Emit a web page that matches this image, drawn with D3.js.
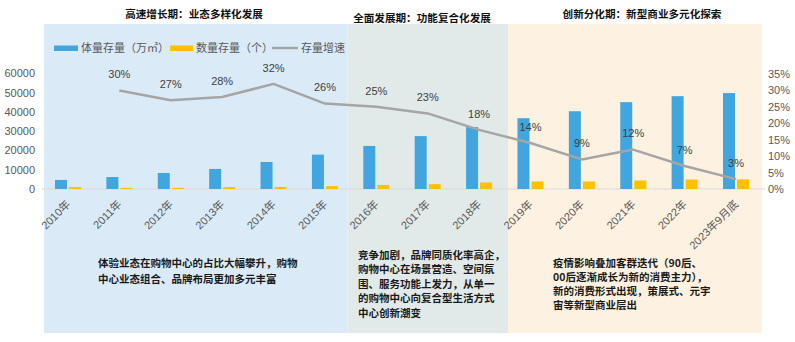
<!DOCTYPE html>
<html>
<head>
<meta charset="utf-8">
<script src="https://cdn.jsdelivr.net/npm/d3@7"></script>
<style>
  html, body { margin: 0; padding: 0; background: #fff; }
  svg text { font-family: "Liberation Sans", Arial, "Noto Sans CJK SC", sans-serif; }
  .cjk { font-family: "Noto Sans CJK SC", "Liberation Sans", sans-serif !important; }
</style>
</head>
<body>
<div id="chart"></div>
<script>
// 2010 - 2023.9 shopping mall stock
const categories = ["2010年", "2011年", "2012年", "2013年", "2014年", "2015年", "2016年",
    "2017年", "2018年", "2019年", "2020年", "2021年", "2022年", "2023年9月底"];
const areaStock = [4700, 6200, 8300, 10400, 14000, 17800, 22300, 27400, 32100, 36700, 40300, 45000, 48100, 49700];
const countStock = [1000, 600, 600, 1000, 1100, 1500, 2100, 2500, 3400, 3900, 3900, 4400, 4900, 5000];
const growthRate = [null, 30, 27, 28, 32, 26, 25, 23, 18, 14, 9, 12, 7, 3];

const leftTicks = [0, 10000, 20000, 30000, 40000, 50000, 60000];
const rightTicks = [0, 5, 10, 15, 20, 25, 30, 35];

const seriesNames = ["体量存量（万㎡）", "数量存量（个）", "存量增速"];

const stageTitles = ["高速增长期：业态多样化发展", "全面发展期：功能复合化发展", "创新分化期：新型商业多元化探索"];
const stageNotes = [
    ["体验业态在购物中心的占比大幅攀升，购物", "中心业态组合、品牌布局更加多元丰富"],
    ["竞争加剧，品牌同质化率高企，", "购物中心在场景营造、空间氛", "围、服务功能上发力，从单一", "的购物中心向复合型生活方式", "中心创新潮变"],
    ["疫情影响叠加客群迭代（90后、", "00后逐渐成长为新的消费主力），", "新的消费形式出现，策展式、元宇", "宙等新型商业层出"]
];

const width = 795;
const height = 342;

const colors = {
    area: "#41A5E0",
    count: "#FFC000",
    line: "#A5A5A5",
    axis: "#595959",
    base: "#D9D9D9"
};

// stage background panels
const panels = [
    { x0: 44, x1: 347.5, fill: "#DAEBF7", titleX: 194, titleY: 14, noteX: 98, noteY: 263, lh: 16.7 },
    { x0: 347.5, x1: 508, fill: "#E1EAE9", titleX: 422, titleY: 18, noteX: 358, noteY: 255, lh: 14.5 },
    { x0: 508, x1: 762, fill: "#FDF2E1", titleX: 642, titleY: 14, noteX: 553, noteY: 263, lh: 14 }
];

const svg = d3.select("#chart")
    .append("svg")
    .attr("width", width)
    .attr("height", height);

svg.selectAll("rect.panel")
    .data(panels)
    .join("rect")
    .attr("class", "panel")
    .attr("x", d => d.x0)
    .attr("y", 24)
    .attr("width", d => d.x1 - d.x0)
    .attr("height", 309)
    .attr("fill", d => d.fill);

svg.selectAll("text.stage-title")
    .data(panels)
    .join("text")
    .attr("class", "stage-title cjk")
    .attr("x", d => d.titleX)
    .attr("y", d => d.titleY)
    .attr("dy", "0.35em")
    .attr("text-anchor", "middle")
    .attr("font-size", 10.6)
    .attr("font-weight", "bold")
    .attr("fill", "#111")
    .text((d, i) => stageTitles[i]);

panels.forEach((p, i) => {
    svg.append("text")
        .attr("class", "cjk")
        .attr("font-size", 10.5)
        .attr("font-weight", "bold")
        .attr("fill", "#1a1a1a")
        .selectAll("tspan")
        .data(stageNotes[i])
        .join("tspan")
        .attr("x", p.noteX)
        .attr("y", (d, j) => p.noteY + j * p.lh)
        .attr("dy", "0.35em")
        .text(d => d);
});

const x = d3.scaleBand()
    .domain(categories)
    .range([42.3, 761.7]);

const xInner = d3.scaleBand()
    .domain(["area", "count"])
    .range([-13, 13])
    .paddingInner(0.143);

const yLeft = d3.scaleLinear()
    .domain([0, 60000])
    .range([189, 73.2]);

const yRight = d3.scaleLinear()
    .domain([0, 35])
    .range([189, 74]);

const cx = c => x(c) + x.bandwidth() / 2;

// left axis
const leftAxis = svg.append("g")
    .attr("transform", "translate(35,0)")
    .call(d3.axisLeft(yLeft).tickValues(leftTicks).tickSize(0).tickPadding(0).tickFormat(d3.format("d")));
leftAxis.select(".domain").remove();
leftAxis.selectAll("text")
    .attr("font-size", 11)
    .attr("fill", colors.axis);

// right axis
const rightAxis = svg.append("g")
    .attr("transform", "translate(768,0)")
    .call(d3.axisRight(yRight).tickValues(rightTicks).tickSize(0).tickPadding(0).tickFormat(d => d + "%"));
rightAxis.select(".domain").remove();
rightAxis.selectAll("text")
    .attr("font-size", 11)
    .attr("fill", colors.axis);

// baseline
svg.append("line")
    .attr("x1", 42)
    .attr("x2", 765)
    .attr("y1", yLeft(0))
    .attr("y2", yLeft(0))
    .attr("stroke", colors.base)
    .attr("stroke-width", 1);

// bars
svg.selectAll("rect.area")
    .data(categories)
    .join("rect")
    .attr("class", "area")
    .attr("x", c => cx(c) + xInner("area"))
    .attr("width", xInner.bandwidth())
    .attr("y", (c, i) => yLeft(areaStock[i]))
    .attr("height", (c, i) => yLeft(0) - yLeft(areaStock[i]))
    .attr("fill", colors.area);

svg.selectAll("rect.count")
    .data(categories)
    .join("rect")
    .attr("class", "count")
    .attr("x", c => cx(c) + xInner("count"))
    .attr("width", xInner.bandwidth())
    .attr("y", (c, i) => yLeft(countStock[i]))
    .attr("height", (c, i) => yLeft(0) - yLeft(countStock[i]))
    .attr("fill", colors.count);

// growth line
const linePoints = categories
    .map((c, i) => ({ c, v: growthRate[i] }))
    .filter(d => d.v !== null);

svg.append("path")
    .datum(linePoints)
    .attr("fill", "none")
    .attr("stroke", colors.line)
    .attr("stroke-width", 2.5)
    .attr("stroke-linejoin", "round")
    .attr("d", d3.line().x(d => cx(d.c)).y(d => yRight(d.v)));

svg.selectAll("text.rate")
    .data(linePoints)
    .join("text")
    .attr("class", "rate")
    .attr("x", d => cx(d.c))
    .attr("y", d => yRight(d.v) - 16)
    .attr("dy", "0.35em")
    .attr("text-anchor", "middle")
    .attr("font-size", 11)
    .attr("fill", "#404040")
    .text(d => d.v + "%");

// category labels
svg.selectAll("text.cat")
    .data(categories)
    .join("text")
    .attr("class", "cat")
    .attr("transform", c => `translate(${cx(c) + 3},205) rotate(-45)`)
    .attr("text-anchor", "end")
    .attr("font-size", 11)
    .attr("fill", colors.axis)
    .text(c => c);

// legend
const legend = svg.append("g").attr("class", "legend");
const legendItems = [
    { x: 54, w: 24, type: "rect", color: colors.area },
    { x: 170, w: 23, type: "rect", color: colors.count },
    { x: 272, w: 26, type: "line", color: colors.line }
];
legendItems.forEach((d, i) => {
    if (d.type === "rect") {
        legend.append("rect")
            .attr("x", d.x)
            .attr("y", 45.5)
            .attr("width", d.w)
            .attr("height", 5.5)
            .attr("fill", d.color);
    } else {
        legend.append("line")
            .attr("x1", d.x)
            .attr("x2", d.x + d.w)
            .attr("y1", 48)
            .attr("y2", 48)
            .attr("stroke", d.color)
            .attr("stroke-width", 2.5);
    }
    legend.append("text")
        .attr("class", "cjk")
        .attr("x", d.x + d.w + 3)
        .attr("y", 48)
        .attr("dy", "0.35em")
        .attr("font-size", 11)
        .attr("fill", colors.axis)
        .text(seriesNames[i]);
});
</script>
</body>
</html>
